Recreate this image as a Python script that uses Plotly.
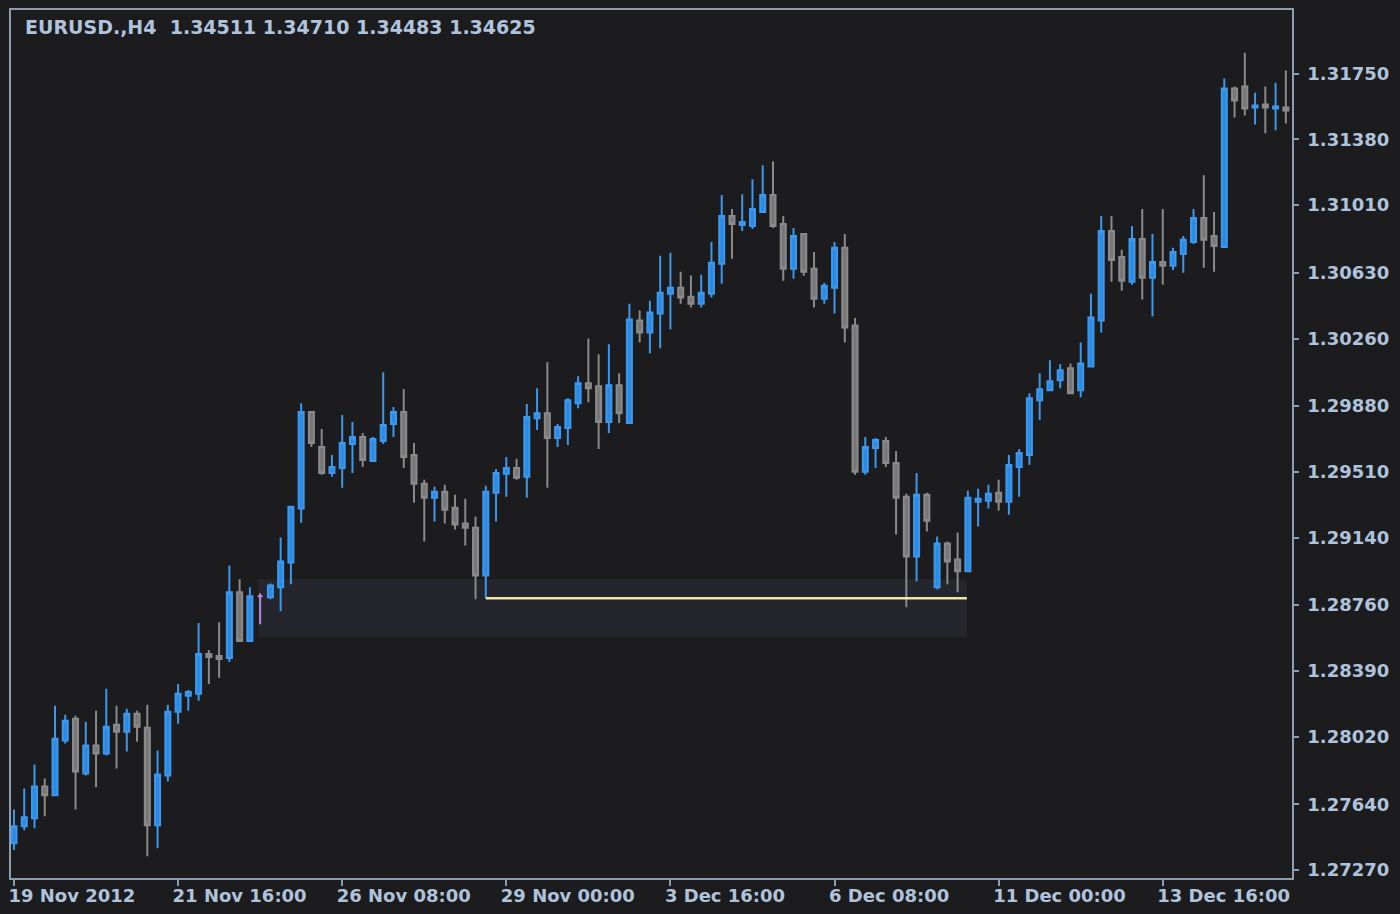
import plotly.graph_objects as go

# ---- data (EURUSD H4) ----
opens = [1.27421, 1.27516, 1.27561, 1.27740, 1.27690, 1.27998, 1.28121, 1.27813, 1.27970, 1.27925,
         1.28087, 1.28048, 1.28149, 1.28070, 1.27522, 1.27802, 1.28160, 1.28250, 1.28261, 1.28485,
         1.28474, 1.28463, 1.28832, 1.28558, 1.28810, 1.28804, 1.28860, 1.29000, 1.29303, 1.29846,
         1.29650, 1.29504, 1.29532, 1.29667, 1.29706, 1.29571, 1.29684, 1.29779, 1.29846, 1.29605,
         1.29443, 1.29364, 1.29398, 1.29308, 1.29219, 1.29196, 1.28927, 1.29392, 1.29499, 1.29532,
         1.29482, 1.29812, 1.29840, 1.29700, 1.29756, 1.29896, 1.30008, 1.29991, 1.29790, 1.29997,
         1.29784, 1.30361, 1.30294, 1.30400, 1.30512, 1.30546, 1.30495, 1.30456, 1.30512, 1.30680,
         1.30949, 1.30899, 1.30893, 1.30971, 1.31067, 1.30904, 1.30652, 1.30848, 1.30652, 1.30484,
         1.30546, 1.30770, 1.30333, 1.29510, 1.29644, 1.29684, 1.29560, 1.29370, 1.29034, 1.29381,
         1.28860, 1.29107, 1.29017, 1.28950, 1.29342, 1.29347, 1.29392, 1.29342, 1.29537, 1.29605,
         1.29913, 1.29969, 1.30025, 1.30092, 1.29969, 1.30103, 1.30361, 1.30865, 1.30719, 1.30579,
         1.30820, 1.30602, 1.30691, 1.30669, 1.30736, 1.30803, 1.30938, 1.30837, 1.30775, 1.31666,
         1.31677, 1.31559, 1.31576, 1.31554, 1.31559]
highs = [1.27611, 1.27729, 1.27863, 1.27785, 1.28194, 1.28143, 1.28138, 1.28104, 1.28166, 1.28289,
         1.28194, 1.28177, 1.28166, 1.28199, 1.27942, 1.28199, 1.28317, 1.28283, 1.28659, 1.28507,
         1.28664, 1.28983, 1.28905, 1.28860, 1.28827, 1.28882, 1.29141, 1.29319, 1.29896, 1.29851,
         1.29751, 1.29605, 1.29829, 1.29790, 1.29728, 1.29706, 1.30070, 1.29874, 1.29975, 1.29672,
         1.29465, 1.29426, 1.29437, 1.29381, 1.29359, 1.29258, 1.29431, 1.29526, 1.29594, 1.29583,
         1.29891, 1.29980, 1.30126, 1.29779, 1.29924, 1.30047, 1.30260, 1.30171, 1.30227, 1.30064,
         1.30456, 1.30417, 1.30473, 1.30725, 1.30742, 1.30636, 1.30614, 1.30619, 1.30803, 1.31067,
         1.30988, 1.31072, 1.31156, 1.31235, 1.31257, 1.30949, 1.30882, 1.30854, 1.30747, 1.30574,
         1.30803, 1.30848, 1.30375, 1.29706, 1.29700, 1.29706, 1.29627, 1.29387, 1.29504, 1.29392,
         1.29146, 1.29118, 1.29168, 1.29403, 1.29415, 1.29437, 1.29465, 1.29605, 1.29639, 1.29952,
         1.30064, 1.30137, 1.30115, 1.30120, 1.30238, 1.30512, 1.30949, 1.30949, 1.30759, 1.30893,
         1.30988, 1.30848, 1.30988, 1.30770, 1.30837, 1.30988, 1.31179, 1.30971, 1.31722, 1.31677,
         1.31867, 1.31643, 1.31677, 1.31699, 1.31767]
lows = [1.27382, 1.27494, 1.27505, 1.27572, 1.27688, 1.27981, 1.27611, 1.27802, 1.27735, 1.27914,
        1.27841, 1.27936, 1.27992, 1.27348, 1.27393, 1.27768, 1.28093, 1.28166, 1.28222, 1.28317,
        1.28351, 1.28440, 1.28552, 1.28552, 1.28653, 1.28793, 1.28726, 1.28877, 1.29224, 1.29650,
        1.29493, 1.29482, 1.29420, 1.29504, 1.29537, 1.29566, 1.29667, 1.29706, 1.29532, 1.29336,
        1.29118, 1.29230, 1.29219, 1.29185, 1.29095, 1.28793, 1.28799, 1.29230, 1.29370, 1.29465,
        1.29364, 1.29745, 1.29420, 1.29650, 1.29661, 1.29868, 1.29902, 1.29639, 1.29728, 1.29784,
        1.29779, 1.30238, 1.30177, 1.30205, 1.30311, 1.30456, 1.30434, 1.30434, 1.30490, 1.30568,
        1.30708, 1.30865, 1.30876, 1.30966, 1.30882, 1.30585, 1.30596, 1.30613, 1.30434, 1.30456,
        1.30400, 1.30238, 1.29493, 1.29493, 1.29532, 1.29537, 1.29157, 1.28748, 1.28894, 1.29174,
        1.28849, 1.28877, 1.28832, 1.28945, 1.29202, 1.29303, 1.29291, 1.29269, 1.29370, 1.29549,
        1.29801, 1.29964, 1.29980, 1.29947, 1.29930, 1.30098, 1.30294, 1.30579, 1.30529, 1.30563,
        1.30479, 1.30384, 1.30563, 1.30646, 1.30630, 1.30792, 1.30658, 1.30635, 1.30770, 1.31503,
        1.31515, 1.31464, 1.31414, 1.31431, 1.31470]
closes = [1.27516, 1.27567, 1.27740, 1.27690, 1.28009, 1.28110, 1.27824, 1.27970, 1.27925, 1.28076,
          1.28048, 1.28149, 1.28076, 1.27522, 1.27807, 1.28160, 1.28261, 1.28272, 1.28485, 1.28468,
          1.28457, 1.28832, 1.28558, 1.28810, 1.28810, 1.28871, 1.29006, 1.29314, 1.29846, 1.29672,
          1.29504, 1.29537, 1.29672, 1.29706, 1.29577, 1.29695, 1.29773, 1.29846, 1.29594, 1.29443,
          1.29364, 1.29398, 1.29297, 1.29213, 1.29196, 1.28927, 1.29398, 1.29504, 1.29532, 1.29476,
          1.29818, 1.29840, 1.29700, 1.29762, 1.29913, 1.30008, 1.29980, 1.29790, 1.29997, 1.29840,
          1.30367, 1.30294, 1.30406, 1.30518, 1.30546, 1.30490, 1.30456, 1.30518, 1.30686, 1.30949,
          1.30904, 1.30916, 1.30988, 1.31067, 1.30893, 1.30652, 1.30837, 1.30635, 1.30484, 1.30557,
          1.30770, 1.30322, 1.29510, 1.29650, 1.29689, 1.29560, 1.29364, 1.29034, 1.29381, 1.29235,
          1.29107, 1.29006, 1.28950, 1.29364, 1.29359, 1.29387, 1.29342, 1.29549, 1.29616, 1.29924,
          1.29975, 1.30019, 1.30081, 1.29952, 1.30120, 1.30378, 1.30865, 1.30702, 1.30585, 1.30820,
          1.30602, 1.30691, 1.30669, 1.30747, 1.30815, 1.30938, 1.30815, 1.30781, 1.31666, 1.31599,
          1.31554, 1.31571, 1.31559, 1.31565, 1.31543]

doji_bars = [24]
tick_bars = [0, 16, 32, 48, 64, 80, 96, 112]
tick_labels = ["19 Nov 2012", "21 Nov 16:00", "26 Nov 08:00", "29 Nov 00:00",
               "3 Dec 16:00", "6 Dec 08:00", "11 Dec 00:00", "13 Dec 16:00"]
price_ticks = [1.27270, 1.27640, 1.28020, 1.28390, 1.28760, 1.29140, 1.29510,
               1.29880, 1.30260, 1.30630, 1.31010, 1.31380, 1.31750]
header = "EURUSD.,H4\u00a0\u00a01.34511 1.34710 1.34483 1.34625"
support_level = 1.28799
support_start_bar = 46
zone_top = 1.28905
zone_bottom = 1.28580
zone_start_bar = 23.8
zone_end_bar = 92.9

# ---- styling ----
BG = "#1c1c1e"
TEXT = "#b0c3dc"
FRAME = "#8c9db2"
FONT = "DejaVu Sans"

bars = list(range(len(opens)))
main = [i for i in bars if i not in doji_bars]

fig = go.Figure()

fig.add_shape(type="rect", xref="x", yref="y",
              x0=zone_start_bar, x1=zone_end_bar, y0=zone_bottom, y1=zone_top,
              fillcolor="#25262d", line=dict(width=0), layer="below")

fig.add_trace(go.Candlestick(
    x=[bars[i] for i in main],
    open=[opens[i] for i in main], high=[highs[i] for i in main],
    low=[lows[i] for i in main], close=[closes[i] for i in main],
    increasing=dict(line=dict(color="#3d97ec", width=2), fillcolor="#2b8be4"),
    decreasing=dict(line=dict(color="#8a8a8a", width=2), fillcolor="#777777"),
    hoverinfo="skip", showlegend=False))

fig.add_trace(go.Candlestick(
    x=[bars[i] for i in doji_bars],
    open=[opens[i] for i in doji_bars], high=[highs[i] for i in doji_bars],
    low=[lows[i] for i in doji_bars], close=[closes[i] for i in doji_bars],
    increasing=dict(line=dict(color="#b48ae8", width=2), fillcolor="#b48ae8"),
    decreasing=dict(line=dict(color="#b48ae8", width=2), fillcolor="#b48ae8"),
    hoverinfo="skip", showlegend=False))

fig.add_shape(type="line", xref="x", yref="y",
              x0=support_start_bar, x1=zone_end_bar, y0=support_level, y1=support_level,
              line=dict(color="#f2e6a0", width=2.5))

fig.add_annotation(text=header, xref="paper", yref="paper", x=0, y=1,
                   xanchor="left", yanchor="top", xshift=12, yshift=-4,
                   showarrow=False,
                   font=dict(family=FONT, size=19, color=TEXT, weight="bold"))

fig.update_layout(
    width=1400, height=914,
    margin=dict(l=8, r=108, t=8, b=34),
    paper_bgcolor=BG, plot_bgcolor=BG,
    boxgap=0.3,
    hovermode=False,
    xaxis=dict(range=[-0.29, 124.6], rangeslider=dict(visible=False),
               tickmode="array", tickvals=tick_bars, ticktext=tick_labels,
               ticks="outside", ticklen=6, tickcolor=FRAME, tickwidth=1.5,
               ticklabelposition="outside right", ticklabelshift=-7,
               ticklabelstandoff=1,
               showgrid=False, zeroline=False,
               showline=True, mirror=True, linecolor=FRAME, linewidth=1.5,
               tickfont=dict(family=FONT, size=18, color=TEXT, weight="bold")),
    yaxis=dict(range=[1.27225, 1.32108], side="right",
               tickmode="array", tickvals=price_ticks,
               ticktext=[f"{v:.5f}" for v in price_ticks],
               ticks="outside", ticklen=5, tickcolor=FRAME, tickwidth=1.5,
               ticklabelstandoff=5,
               showgrid=False, zeroline=False,
               showline=True, mirror=True, linecolor=FRAME, linewidth=1.5,
               tickfont=dict(family=FONT, size=18, color=TEXT, weight="bold")),
)

fig.write_html("out.html", config={"displayModeBar": False},
               post_script="document.body.style.margin='0px';")
